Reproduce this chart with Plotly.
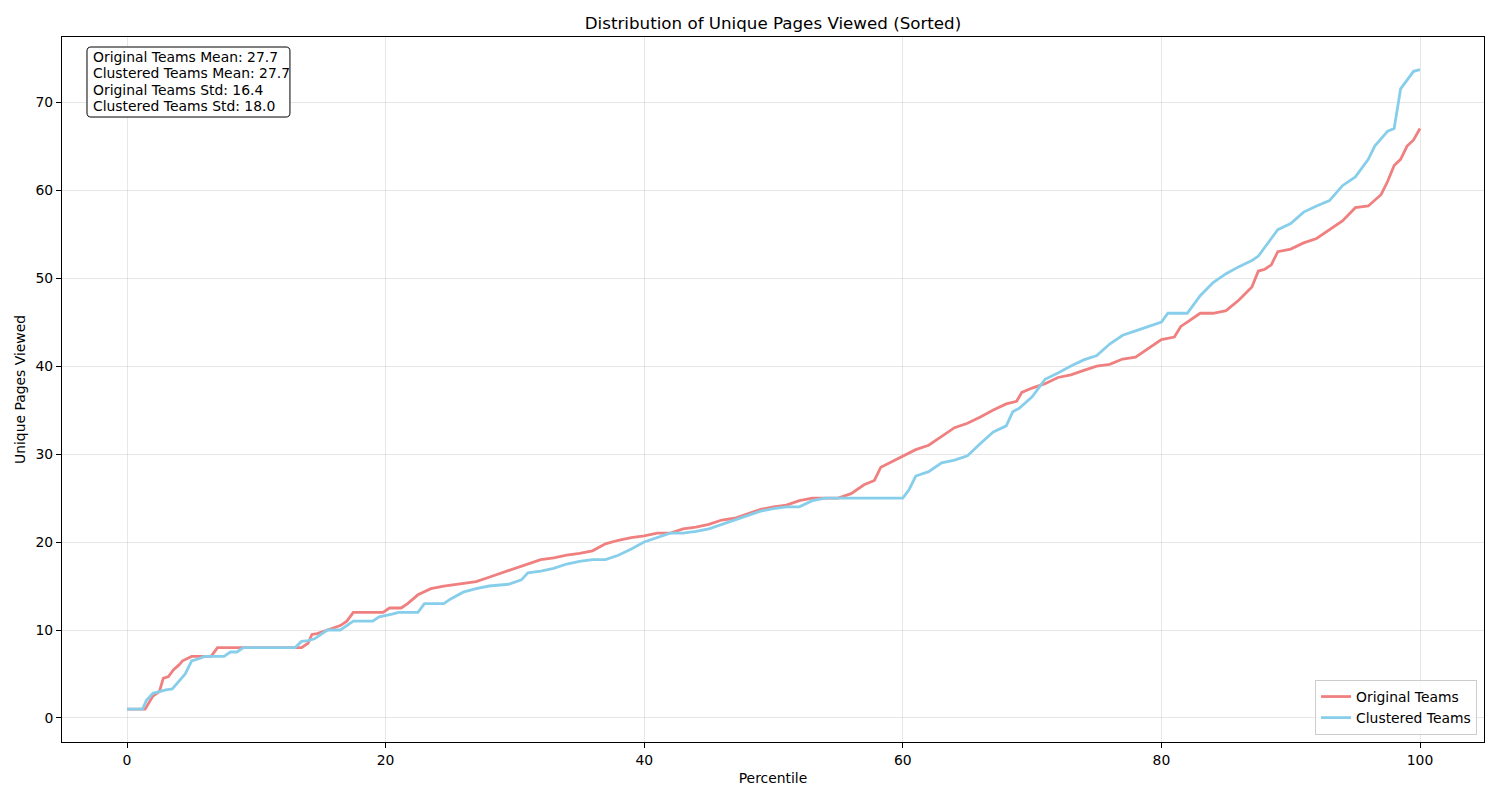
import plotly.graph_objects as go

orig_pct = [0, 1.4, 2.0, 2.5, 2.8, 3.2, 3.6, 4.0, 4.3, 4.7, 5.0, 6.5, 7.0, 13.5, 14.0, 14.3, 14.7, 15.5, 16.5, 17.0, 17.5, 19.8, 20.3, 21.2, 21.7, 22.5, 23.5, 24.5, 26.0, 27.0, 28.0, 29.0, 30.0, 31.0, 32.0, 33.0, 34.0, 35.0, 36.0, 37.0, 38.0, 39.0, 40.0, 41.0, 42.0, 43.0, 44.0, 45.0, 46.0, 47.0, 48.0, 49.0, 50.0, 51.0, 52.0, 53.0, 55.0, 56.0, 57.0, 57.8, 58.3, 59.0, 60.0, 61.0, 62.0, 63.0, 64.0, 65.0, 66.0, 67.0, 68.0, 68.8, 69.2, 70.0, 71.0, 72.0, 73.0, 74.0, 75.0, 76.0, 77.0, 78.0, 79.0, 80.0, 81.0, 81.5, 82.0, 83.0, 84.0, 85.0, 86.0, 87.0, 87.5, 88.0, 88.5, 89.0, 90.0, 91.0, 92.0, 93.0, 94.0, 95.0, 96.0, 97.0, 97.5, 98.0, 98.5, 99.0, 99.5, 100.0]
orig_vals = [1, 1, 2.5, 3.0, 4.5, 4.7, 5.5, 6.0, 6.5, 6.8, 7.0, 7.0, 8.0, 8.0, 8.5, 9.5, 9.6, 10.0, 10.5, 11.0, 12.0, 12.0, 12.5, 12.5, 13.0, 14.0, 14.7, 15.0, 15.3, 15.5, 16.0, 16.5, 17.0, 17.5, 18.0, 18.2, 18.5, 18.7, 19.0, 19.8, 20.2, 20.5, 20.7, 21.0, 21.0, 21.5, 21.7, 22.0, 22.5, 22.7, 23.2, 23.7, 24.0, 24.2, 24.7, 25.0, 25.0, 25.5, 26.5, 27.0, 28.5, 29.0, 29.8, 30.5, 31.0, 32.0, 33.0, 33.5, 34.2, 35.0, 35.7, 36.0, 37.0, 37.5, 38.0, 38.7, 39.0, 39.5, 40.0, 40.2, 40.8, 41.0, 42.0, 43.0, 43.3, 44.5, 45.0, 46.0, 46.0, 46.3, 47.5, 49.0, 50.8, 51.0, 51.5, 53.0, 53.3, 54.0, 54.5, 55.5, 56.5, 58.0, 58.2, 59.5, 61.0, 62.8, 63.5, 65.0, 65.7, 67.0]

clus_pct = [0, 1.2, 1.5, 2.0, 2.5, 3.0, 3.5, 4.0, 4.5, 5.0, 5.5, 6.0, 7.5, 8.0, 8.5, 9.0, 13.0, 13.5, 14.0, 14.5, 15.0, 15.5, 16.5, 17.0, 17.5, 19.0, 19.5, 20.5, 21.0, 22.5, 23.0, 24.5, 25.0, 26.0, 27.0, 28.0, 29.5, 30.5, 31.0, 32.0, 33.0, 34.0, 35.0, 36.0, 37.0, 38.0, 39.0, 40.0, 41.0, 42.0, 43.0, 44.0, 45.0, 46.0, 47.0, 48.0, 49.0, 50.0, 51.0, 52.0, 53.0, 54.0, 60.0, 60.5, 61.0, 62.0, 63.0, 64.0, 65.0, 66.0, 67.0, 68.0, 68.5, 69.0, 70.0, 70.5, 71.0, 72.0, 73.0, 74.0, 75.0, 76.0, 77.0, 78.0, 79.0, 80.0, 80.5, 82.0, 83.0, 84.0, 85.0, 86.0, 87.0, 87.5, 88.0, 89.0, 90.0, 91.0, 92.0, 93.0, 94.0, 95.0, 96.0, 96.5, 97.5, 98.0, 98.5, 99.0, 99.5, 100.0]
clus_vals = [1, 1, 2.0, 2.8, 3.0, 3.2, 3.3, 4.2, 5.0, 6.5, 6.7, 7.0, 7.0, 7.5, 7.5, 8.0, 8.0, 8.7, 8.8, 9.0, 9.5, 10.0, 10.0, 10.5, 11.0, 11.0, 11.5, 11.8, 12.0, 12.0, 13.0, 13.0, 13.5, 14.3, 14.7, 15.0, 15.2, 15.7, 16.5, 16.7, 17.0, 17.5, 17.8, 18.0, 18.0, 18.5, 19.2, 20.0, 20.5, 21.0, 21.0, 21.2, 21.5, 22.0, 22.5, 23.0, 23.5, 23.8, 24.0, 24.0, 24.7, 25.0, 25.0, 26.0, 27.5, 28.0, 29.0, 29.3, 29.8, 31.2, 32.5, 33.2, 34.8, 35.2, 36.5, 37.5, 38.5, 39.2, 40.0, 40.7, 41.2, 42.5, 43.5, 44.0, 44.5, 45.0, 46.0, 46.0, 48.0, 49.5, 50.5, 51.3, 52.0, 52.5, 53.5, 55.5, 56.2, 57.5, 58.2, 58.8, 60.5, 61.5, 63.5, 65.0, 66.7, 67.0, 71.5, 72.5, 73.5, 73.7]

series_names = ["Original Teams", "Clustered Teams"]
stats_lines = ["Original Teams Mean: 27.7", "Clustered Teams Mean: 27.7",
               "Original Teams Std: 16.4", "Clustered Teams Std: 18.0"]

FONT = "DejaVu Sans"
SMALL = 13.9
fig = go.Figure()
fig.add_trace(go.Scatter(x=orig_pct, y=orig_vals, mode="lines", name=series_names[0],
                         line=dict(color="#F08080", width=2.8)))
fig.add_trace(go.Scatter(x=clus_pct, y=clus_vals, mode="lines", name=series_names[1],
                         line=dict(color="#87CEEB", width=2.8)))

axis_common = dict(showline=True, linecolor="black", linewidth=1, mirror=True,
                   showgrid=True, gridcolor="rgba(176,176,176,0.3)", gridwidth=1,
                   zeroline=False, ticks="outside", ticklen=5, tickcolor="black",
                   tickfont=dict(family=FONT, size=SMALL, color="black"))

# plot area (page px): left 62, right 1484, top 37, bottom 742; page has 8px body offset
fig.update_layout(
    width=1500, height=800,
    paper_bgcolor="white", plot_bgcolor="white",
    margin=dict(l=54, r=24, t=29, b=66),
    title=dict(text="Distribution of Unique Pages Viewed (Sorted)", x=0.5, xanchor="center",
               xref="paper",
               y=1 - 15 / 800, yanchor="middle",
               font=dict(family=FONT, size=16.7, color="black")),
    xaxis=dict(range=[-5.03, 104.95], tickvals=[0, 20, 40, 60, 80, 100],
               title=dict(text="Percentile", font=dict(family=FONT, size=SMALL, color="black"), standoff=6),
               **axis_common),
    yaxis=dict(range=[-2.73, 77.4], tickvals=[0, 10, 20, 30, 40, 50, 60, 70],
               title=dict(text="Unique Pages Viewed", font=dict(family=FONT, size=SMALL, color="black"), standoff=6),
               **axis_common),
    legend=dict(x=0.9951, y=0.0099, xanchor="right", yanchor="bottom",
                bgcolor="rgba(255,255,255,0.8)", bordercolor="#cccccc", borderwidth=1,
                font=dict(family=FONT, size=SMALL, color="black"), tracegroupgap=0),
    showlegend=True,
)

# stats box (rounded rectangle) in paper coords
x0, x1, y0, y1 = 0.01758, 0.1603, 0.8865, 0.9858
rx, ry = 0.0028, 0.0057
path = (f"M {x0+rx},{y1} L {x1-rx},{y1} Q {x1},{y1} {x1},{y1-ry} "
        f"L {x1},{y0+ry} Q {x1},{y0} {x1-rx},{y0} L {x0+rx},{y0} Q {x0},{y0} {x0},{y0+ry} "
        f"L {x0},{y1-ry} Q {x0},{y1} {x0+rx},{y1} Z")
fig.add_shape(type="path", path=path, xref="paper", yref="paper",
              line=dict(color="black", width=1), fillcolor="white", layer="above")

line_y = [0.9716, 0.9489, 0.9255, 0.9021]
for txt, yy in zip(stats_lines, line_y):
    fig.add_annotation(xref="paper", yref="paper", x=0.0204, y=yy, xanchor="left", yanchor="middle",
                       text=txt, showarrow=False, align="left",
                       font=dict(family=FONT, size=SMALL, color="black"))

fig.write_html("out.html")
